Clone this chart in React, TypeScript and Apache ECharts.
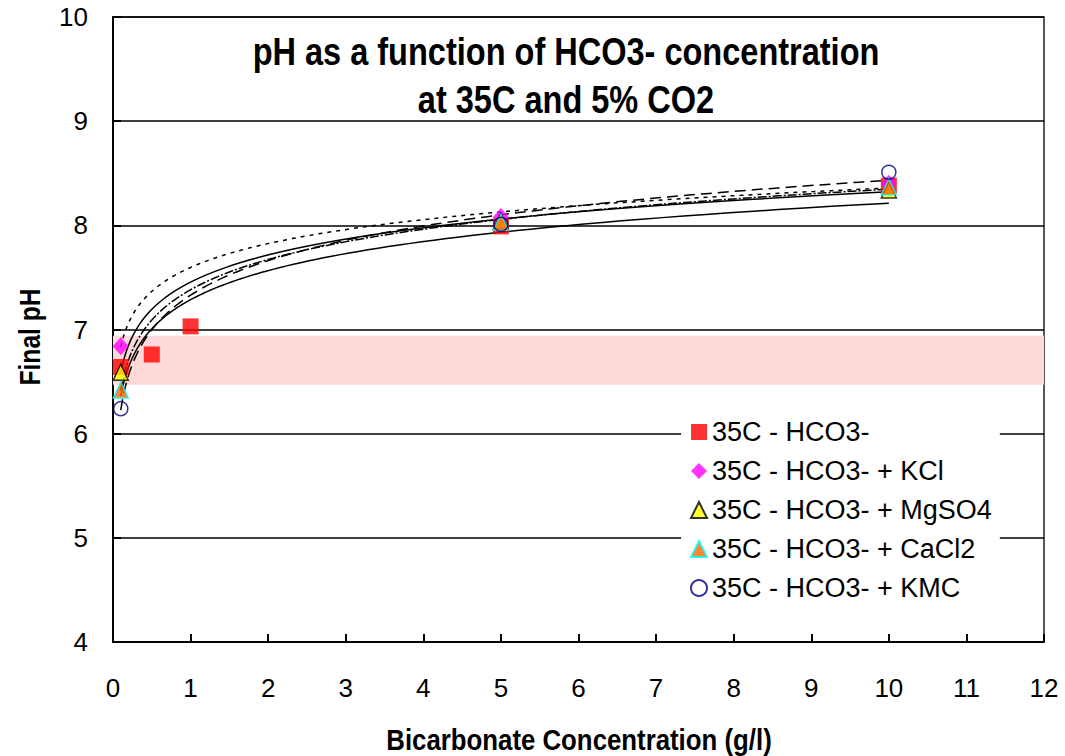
import React, { useEffect, useRef } from "react";
import * as echarts from "echarts";

const FONT = '"Liberation Sans", Arial, sans-serif';

// Data
const xRed = [0.1, 0.5, 1, 5, 10];
const yRed = [6.64, 6.76, 7.03, 7.99, 8.38];
const xOthers = [0.1, 5, 10];
const yKCl = [6.84, 8.08, 8.4];
const yMgSO4 = [6.59, 8.04, 8.34];
const yCaCl2 = [6.42, 8.03, 8.37];
const yKMC = [6.24, 8.01, 8.51];

const seriesNames = [
  "35C - HCO3-",
  "35C - HCO3- + KCl",
  "35C - HCO3- + MgSO4",
  "35C - HCO3- + CaCl2",
  "35C - HCO3- + KMC",
];

const bandRange = [6.47, 6.94];
const xTicks = { min: 0, max: 12, interval: 1 };
const yTicks = { min: 4, max: 10, interval: 1 };
const titleLines = ["pH as a function of HCO3- concentration", "at 35C and 5% CO2"];
const xName = "Bicarbonate Concentration (g/l)";
const yName = "Final pH";

// least-squares logarithmic trendline (Excel style) fitted to the data arrays
function logFit(xs: number[], ys: number[]) {
  const lx = xs.map((v) => Math.log(v));
  const n = xs.length;
  const mx = lx.reduce((a, b) => a + b, 0) / n;
  const my = ys.reduce((a, b) => a + b, 0) / n;
  let sxy = 0;
  let sxx = 0;
  for (let i = 0; i < n; i++) {
    sxy += (lx[i] - mx) * (ys[i] - my);
    sxx += (lx[i] - mx) * (lx[i] - mx);
  }
  const a = sxy / sxx;
  const b = my - a * mx;
  const x0 = Math.min(...xs);
  const x1 = Math.max(...xs);
  const pts: number[][] = [];
  const steps = 120;
  for (let i = 0; i <= steps; i++) {
    const x = x0 * Math.pow(x1 / x0, i / steps);
    pts.push([x, a * Math.log(x) + b]);
  }
  return pts;
}

const zip = (xs: number[], ys: number[]) => xs.map((x, i) => [x, ys[i]]);

export default function App() {
  const ref = useRef<HTMLDivElement>(null);
  useEffect(() => {
    if (!ref.current) return;
    const chart = echarts.init(ref.current, null, { renderer: "svg" });

    const trend = (name: string, xs: number[], ys: number[], type: any) => ({
      name,
      type: "line",
      data: logFit(xs, ys),
      showSymbol: false,
      symbol: "none",
      smooth: false,
      z: 3,
      lineStyle: { color: "#000", width: 1.5, type },
      silent: true,
    });

    const scatter = (name: string, data: number[][], symbol: string, size: any, itemStyle: any) => ({
      name,
      type: "scatter",
      data,
      symbol,
      symbolSize: size,
      itemStyle,
      z: 5,
    });

    const condensedText = (text: string, x: number, y: number, size: number, scale: number, rotation = 0) => ({
      type: "text",
      x,
      y,
      rotation,
      scaleX: scale,
      style: {
        text,
        font: `bold ${size}px ${FONT}`,
        fill: "#000",
        textAlign: "center",
        textVerticalAlign: "middle",
      },
    });

    chart.setOption({
      animation: false,
      backgroundColor: "#fff",
      grid: {
        left: 113,
        right: 21,
        top: 17,
        bottom: 114,
        show: true,
        borderColor: "#222",
        borderWidth: 1.5,
        backgroundColor: "transparent",
      },
      graphic: [
        condensedText(titleLines[0], 566, 52, 39, 0.834),
        condensedText(titleLines[1], 566, 100, 39, 0.834),
        condensedText(xName, 579, 740, 30, 0.86),
        condensedText(yName, 30, 337, 30, 0.82, Math.PI / 2),
      ],
      xAxis: {
        type: "value",
        min: xTicks.min,
        max: xTicks.max,
        interval: xTicks.interval,
        axisLine: { lineStyle: { color: "#000", width: 2 } },
        axisTick: { inside: true, length: 8, lineStyle: { color: "#000", width: 2 } },
        axisLabel: { fontFamily: FONT, fontSize: 26, color: "#000", margin: 33 },
        splitLine: { show: false },
      },
      yAxis: {
        type: "value",
        min: yTicks.min,
        max: yTicks.max,
        interval: yTicks.interval,
        axisLine: { show: true, lineStyle: { color: "#000", width: 2 } },
        axisTick: { show: true, inside: true, length: 8, lineStyle: { color: "#000", width: 2 } },
        axisLabel: { fontFamily: FONT, fontSize: 26, color: "#000", margin: 25 },
        splitLine: { show: true, lineStyle: { color: "#000", width: 1.5 } },
      },
      legend: {
        data: seriesNames,
        orient: "vertical",
        left: 681,
        top: 409,
        padding: [8, 8, 8, 9],
        backgroundColor: "#fff",
        itemGap: 9,
        itemWidth: 16,
        itemHeight: 16,
        textStyle: { fontFamily: FONT, fontSize: 27, color: "#000", lineHeight: 30 },
      },
      series: [
        {
          name: "band",
          type: "line",
          data: [],
          z: 1,
          silent: true,
          markArea: {
            silent: true,
            itemStyle: { color: "#FFD9D9" },
            data: [[{ yAxis: bandRange[0] }, { yAxis: bandRange[1] }]],
          },
        },
        trend("fit-red", xRed, yRed, "solid"),
        trend("fit-kcl", xOthers, yKCl, [4, 5]),
        trend("fit-mgso4", xOthers, yMgSO4, "solid"),
        trend("fit-cacl2", xOthers, yCaCl2, [9, 2, 2, 2]),
        trend("fit-kmc", xOthers, yKMC, [11, 6]),
        scatter(seriesNames[0], zip(xRed, yRed), "rect", 16, { color: "#FF0000" }),
        scatter(seriesNames[1], zip(xOthers, yKCl), "diamond", [16, 18], { color: "#FF00FF" }),
        scatter(seriesNames[2], zip(xOthers, yMgSO4), "triangle", [15, 16], {
          color: "#FFFF00",
          borderColor: "#000",
          borderWidth: 1.5,
        }),
        scatter(seriesNames[3], zip(xOthers, yCaCl2), "triangle", [15, 16], {
          color: "#FF6600",
          borderColor: "#00FFFF",
          borderWidth: 1.5,
        }),
        scatter(seriesNames[4], zip(xOthers, yKMC), "circle", 14, {
          color: "rgba(255,255,255,0)",
          borderColor: "#000080",
          borderWidth: 1.5,
        }),
      ],
    });
    return () => chart.dispose();
  }, []);
  return (
    <div
      ref={ref}
      style={{ position: "fixed", left: 0, top: 0, width: 1065, height: 756 }}
    />
  );
}
